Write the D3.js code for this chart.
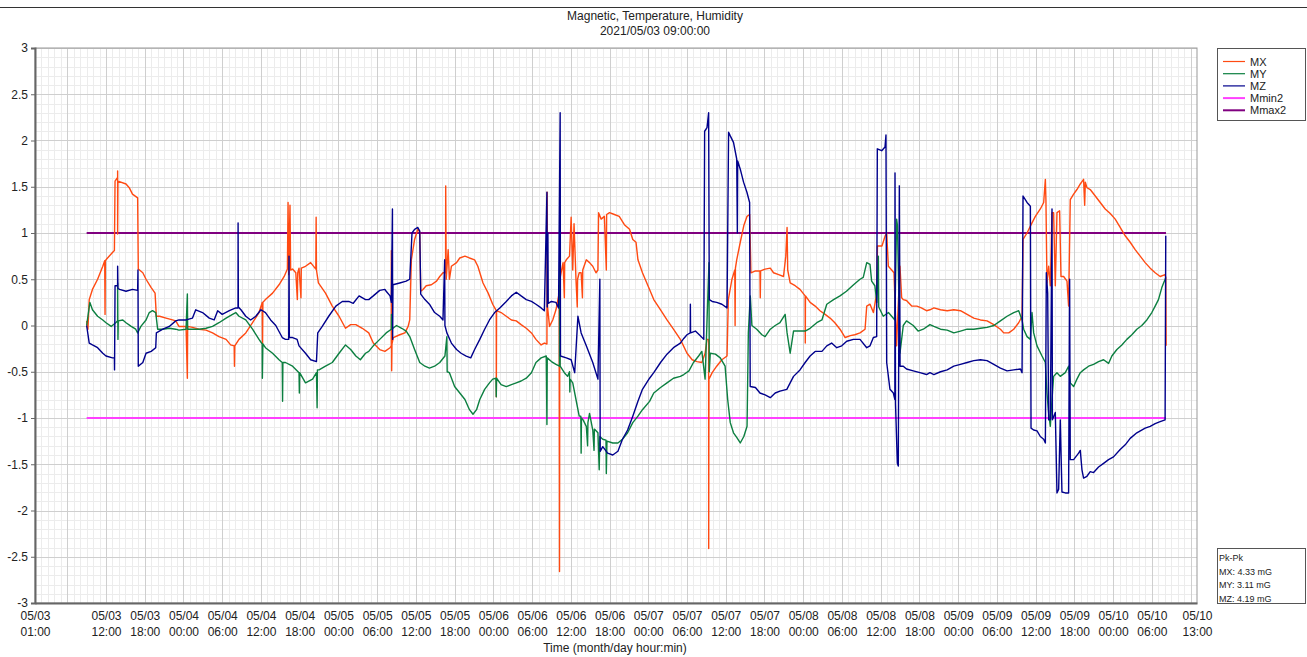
<!DOCTYPE html>
<html>
<head>
<meta charset="utf-8">
<script src="https://cdn.jsdelivr.net/npm/d3@7"></script>
<style>
body { margin: 0; background: #fff; }
svg { font-family: "Liberation Sans", Arial, sans-serif; }
</style>
</head>
<body>
<svg id="chart" width="1307" height="657"></svg>
<script>
// Readings as [hours after 05/03 01:00, value in mG]
const mxData = [[8.0,0.05],[8.2,-0.04],[8.4,0.28],[8.9,0.39],[9.7,0.5],[10.5,0.64],[10.8,0.7],[10.85,0.12],[10.9,0.7],[11.0,0.71],[12.0,0.79],[12.3,0.81],[12.4,1.56],[12.8,1.6],[12.8,1.67],[12.8,0.99],[12.85,1.56],[14.1,1.53],[14.6,1.49],[15.1,1.42],[15.9,1.38],[16.0,0.61],[16.7,0.57],[17.2,0.5],[18.0,0.41],[18.6,0.35],[18.8,0.1],[19.3,0.1],[20.3,0.08],[21.3,0.06],[21.8,0.05],[22.3,-0.01],[23.4,-0.01],[23.6,-0.57],[23.65,-0.01],[24.4,-0.02],[25.4,-0.04],[26.5,-0.05],[27.5,-0.08],[28.5,-0.12],[29.6,-0.15],[30.3,-0.21],[30.85,-0.22],[30.9,-0.44],[30.95,-0.22],[31.6,-0.15],[32.65,-0.08],[33.7,0.03],[34.7,0.14],[35.2,0.25],[35.25,-0.2],[35.3,0.25],[35.7,0.28],[36.8,0.35],[37.8,0.44],[38.6,0.53],[39.1,0.61],[39.2,1.33],[39.3,0.55],[39.5,1.3],[39.6,0.6],[39.9,0.61],[40.4,0.57],[40.64,0.28],[40.7,0.57],[40.9,0.62],[41.2,0.3],[41.25,0.62],[41.9,0.64],[42.7,0.68],[43.5,0.61],[43.55,1.17],[43.6,0.6],[43.9,0.46],[45.0,0.35],[46.05,0.21],[47.1,0.1],[48.1,-0.03],[48.9,0.01],[49.7,0.01],[50.7,-0.03],[51.7,-0.08],[52.4,-0.19],[53.4,-0.26],[54.2,-0.28],[55.0,-0.24],[55.2,-0.22],[55.2,0.81],[55.25,-0.49],[55.3,-0.2],[55.5,-0.13],[56.5,-0.1],[57.3,-0.08],[57.8,-0.01],[58.05,0.06],[58.3,0.71],[58.8,0.93],[59.3,1.04],[59.6,1.01],[59.75,0.37],[60.1,0.39],[60.6,0.43],[61.4,0.44],[62.2,0.48],[62.7,0.53],[63.2,0.57],[63.6,0.57],[63.62,1.51],[63.7,0.5],[64.0,0.82],[64.2,0.5],[64.5,0.64],[65.3,0.68],[65.8,0.73],[66.6,0.75],[67.3,0.73],[68.1,0.71],[68.6,0.64],[69.4,0.46],[70.2,0.35],[70.9,0.23],[71.45,0.16],[71.46,-0.77],[71.5,0.16],[72.2,0.14],[73.0,0.1],[73.8,0.06],[74.55,0.05],[75.3,0.01],[76.1,-0.03],[76.9,-0.08],[77.6,-0.15],[78.4,-0.21],[78.9,-0.19],[79.3,-0.2],[79.34,1.44],[79.4,0.2],[79.7,-0.01],[80.2,0.06],[80.7,0.17],[81.2,0.35],[81.25,-2.66],[81.3,0.5],[81.8,0.68],[82.0,0.3],[82.05,0.68],[82.3,0.71],[82.8,0.75],[83.05,1.17],[83.3,0.6],[83.5,1.1],[83.8,0.5],[84.0,0.2],[84.05,0.5],[84.3,0.57],[84.6,0.57],[84.8,0.3],[84.85,0.6],[85.4,0.71],[85.9,0.68],[86.4,0.64],[86.9,0.57],[87.2,0.6],[87.3,1.22],[87.7,1.15],[88.2,1.18],[88.5,0.6],[88.55,1.2],[89.0,1.22],[89.75,1.2],[90.5,1.18],[91.3,1.09],[92.1,1.04],[92.6,0.93],[93.1,0.9],[93.4,0.71],[94.1,0.57],[95.2,0.39],[95.85,0.28],[96.9,0.17],[97.9,0.06],[98.9,-0.04],[99.97,-0.15],[101.0,-0.3],[101.8,-0.37],[102.55,-0.39],[103.3,-0.4],[103.8,-0.3],[104.1,-0.15],[104.35,-0.15],[104.36,-2.41],[104.4,-0.58],[104.9,-0.51],[105.6,-0.44],[106.4,-0.37],[107.2,-0.33],[107.4,0.28],[107.96,0.5],[108.4,0.6],[108.45,0.0],[108.5,0.62],[108.7,0.71],[109.25,0.9],[109.8,1.08],[110.3,1.18],[110.7,1.2],[110.9,0.57],[111.6,0.59],[112.3,0.59],[112.35,0.3],[112.4,0.59],[113.1,0.61],[113.9,0.62],[114.4,0.57],[115.2,0.55],[115.95,0.53],[116.3,0.75],[116.5,1.06],[116.6,0.6],[116.98,0.46],[117.75,0.43],[118.5,0.39],[119.3,0.32],[119.32,-0.19],[119.35,0.32],[120.07,0.25],[120.85,0.21],[121.6,0.16],[122.4,0.12],[123.16,0.08],[123.9,0.03],[124.7,-0.04],[125.5,-0.13],[126.3,-0.11],[127.0,-0.1],[127.8,-0.08],[128.58,-0.04],[128.84,0.21],[129.35,0.23],[129.87,0.14],[130.4,0.35],[130.5,0.86],[131.2,0.86],[131.7,0.97],[131.93,1.0],[132.19,0.64],[132.7,0.6],[133.06,0.57],[133.47,-0.22],[133.58,0.0],[133.99,0.64],[134.25,0.3],[134.5,0.28],[135.0,0.27],[135.8,0.21],[136.6,0.21],[137.3,0.19],[138.1,0.16],[138.63,0.17],[139.24,0.19],[140.27,0.17],[141.3,0.16],[142.33,0.17],[143.36,0.16],[144.39,0.12],[145.42,0.08],[146.45,0.06],[147.48,0.05],[148.52,0.01],[149.55,-0.04],[150.06,-0.08],[150.84,-0.08],[151.61,-0.04],[152.38,0.03],[152.9,0.1],[153.05,0.93],[153.67,1.0],[154.44,1.11],[154.96,1.18],[155.73,1.26],[156.25,1.33],[156.51,1.58],[156.6,1.35],[156.76,0.46],[157.02,0.64],[157.28,0.43],[157.54,1.22],[157.79,1.22],[158.05,0.43],[158.31,1.22],[158.72,1.24],[158.93,0.53],[159.34,0.53],[159.86,0.48],[160.11,0.21],[160.37,1.36],[160.89,1.42],[161.4,1.47],[161.92,1.53],[162.43,1.58],[162.6,1.3],[162.7,1.55],[162.95,1.49],[163.46,1.47],[164.24,1.4],[165.01,1.33],[165.78,1.26],[166.56,1.21],[167.33,1.15],[168.1,1.06],[168.88,0.97],[169.65,0.9],[170.42,0.82],[171.2,0.75],[171.97,0.68],[172.75,0.62],[173.52,0.57],[174.29,0.53],[175.06,0.55],[175.16,0.52],[175.22,-0.22]];

const myData = [[8.0,0.0],[8.5,0.25],[8.9,0.17],[9.7,0.1],[10.5,0.06],[11.0,0.03],[11.8,-0.01],[12.5,0.03],[12.8,0.05],[12.8,0.46],[12.85,-0.15],[12.9,0.05],[13.6,0.06],[14.1,0.03],[14.9,-0.01],[15.6,-0.04],[15.9,-0.08],[16.4,-0.01],[17.2,0.06],[17.7,0.14],[18.2,0.16],[18.7,0.14],[19.0,-0.04],[19.8,-0.04],[20.8,-0.03],[21.8,-0.04],[22.3,-0.05],[23.4,-0.04],[23.6,0.34],[23.65,-0.04],[24.4,-0.04],[25.4,-0.04],[26.5,-0.03],[27.5,-0.01],[28.5,0.03],[29.6,0.08],[30.6,0.12],[31.1,0.14],[31.6,0.1],[32.65,0.06],[33.7,-0.04],[34.7,-0.15],[35.2,-0.2],[35.22,-0.57],[35.3,-0.2],[35.7,-0.24],[36.8,-0.3],[37.8,-0.37],[38.3,-0.4],[38.35,-0.82],[38.4,-0.4],[38.8,-0.4],[39.9,-0.44],[40.9,-0.51],[40.95,-0.73],[41.0,-0.51],[41.9,-0.62],[43.0,-0.58],[43.6,-0.51],[43.7,-0.89],[43.75,-0.48],[44.0,-0.48],[45.0,-0.44],[46.05,-0.4],[47.1,-0.3],[48.1,-0.21],[48.9,-0.26],[49.7,-0.33],[50.4,-0.37],[51.2,-0.3],[51.7,-0.28],[52.4,-0.22],[53.4,-0.15],[54.4,-0.08],[55.2,-0.04],[55.22,0.12],[55.25,-0.04],[56.0,0.0],[56.8,-0.03],[57.5,-0.06],[58.05,-0.12],[58.8,-0.26],[59.6,-0.4],[60.4,-0.44],[61.1,-0.46],[61.9,-0.44],[62.7,-0.4],[63.5,-0.33],[63.8,-0.12],[63.85,-0.5],[64.2,-0.51],[65.0,-0.66],[65.8,-0.73],[66.6,-0.8],[67.3,-0.91],[67.85,-0.96],[68.4,-0.91],[68.9,-0.8],[69.65,-0.69],[70.4,-0.62],[70.9,-0.58],[71.4,-0.57],[71.45,-0.77],[71.5,-0.57],[72.2,-0.64],[73.0,-0.66],[73.8,-0.64],[74.55,-0.62],[75.3,-0.6],[76.1,-0.57],[76.9,-0.51],[77.6,-0.4],[78.4,-0.35],[79.2,-0.33],[79.3,-1.07],[79.35,-0.35],[80.0,-0.39],[80.7,-0.42],[81.25,-0.44],[81.3,1.49],[81.35,-0.44],[82.0,-0.51],[82.5,-0.55],[82.8,-0.5],[82.85,-0.72],[82.9,-0.58],[83.3,-0.62],[83.8,-0.8],[84.3,-0.98],[84.55,-0.98],[84.6,-1.38],[84.65,-1.0],[84.9,-1.02],[85.4,-1.09],[85.6,-1.3],[85.65,-1.05],[85.9,-0.95],[86.4,-1.13],[86.6,-1.35],[86.65,-1.12],[87.2,-1.16],[87.4,-1.56],[87.5,-1.2],[87.95,-1.23],[88.45,-1.24],[88.5,-1.6],[88.6,-1.25],[89.5,-1.27],[90.3,-1.27],[91.0,-1.23],[91.8,-1.16],[92.6,-1.05],[93.4,-0.98],[94.1,-0.91],[95.2,-0.82],[95.85,-0.73],[96.9,-0.67],[97.9,-0.62],[98.9,-0.57],[99.97,-0.55],[100.5,-0.53],[101.3,-0.49],[102.0,-0.4],[102.8,-0.33],[103.3,-0.28],[103.8,-0.58],[104.4,0.68],[104.45,-0.5],[104.6,-0.3],[105.4,-0.31],[106.15,-0.35],[106.9,-0.44],[107.3,-0.8],[107.7,-1.05],[108.2,-1.16],[108.7,-1.21],[109.25,-1.27],[109.8,-1.2],[110.3,-1.09],[110.5,-0.08],[110.8,0.32],[111.05,0.0],[111.8,-0.04],[112.6,-0.1],[113.1,-0.12],[113.9,-0.04],[114.66,0.0],[115.4,0.03],[116.2,0.12],[116.5,-0.08],[116.98,-0.3],[117.5,-0.06],[118.5,-0.06],[119.3,-0.06],[120.07,-0.03],[121.1,0.03],[121.9,0.06],[122.65,0.23],[123.7,0.28],[124.7,0.32],[125.7,0.37],[126.8,0.44],[127.8,0.5],[128.3,0.52],[128.84,0.68],[129.35,0.66],[129.6,0.48],[130.1,0.43],[130.4,0.25],[130.64,0.75],[130.7,0.2],[131.4,0.1],[132.2,0.14],[132.7,0.1],[133.2,0.06],[133.47,1.15],[133.6,1.08],[133.99,-0.3],[134.5,0.0],[135.0,0.05],[136.05,0.0],[136.8,-0.06],[137.6,-0.04],[138.63,0.01],[139.24,-0.01],[140.27,-0.04],[141.3,-0.05],[142.33,-0.08],[143.36,-0.06],[144.39,-0.04],[145.42,-0.04],[146.45,-0.03],[147.48,-0.02],[148.52,0.0],[149.55,0.05],[150.58,0.1],[151.61,0.14],[152.38,0.16],[152.9,0.06],[153.15,-0.04],[153.67,-0.12],[154.19,-0.15],[154.44,0.14],[154.7,-0.08],[155.22,-0.22],[155.99,-0.33],[156.51,-0.4],[156.76,-0.73],[157.02,-0.95],[157.28,-1.09],[157.54,-0.8],[157.79,-0.55],[158.31,-0.51],[158.82,-0.55],[159.6,-0.51],[160.11,-0.44],[160.37,-0.62],[160.89,-0.66],[161.4,-0.58],[161.92,-0.51],[162.43,-0.48],[163.21,-0.44],[163.98,-0.42],[164.75,-0.39],[165.53,-0.37],[166.3,-0.41],[166.81,-0.33],[167.59,-0.26],[168.36,-0.21],[169.13,-0.15],[169.91,-0.1],[170.68,-0.04],[171.45,0.0],[172.23,0.06],[173.0,0.14],[173.52,0.21],[174.03,0.28],[174.55,0.41],[175.06,0.5],[175.16,0.52]];

const mzData = [[8.0,0.0],[8.4,-0.19],[8.9,-0.21],[9.7,-0.24],[10.5,-0.3],[11.0,-0.33],[12.0,-0.35],[12.3,-0.35],[12.32,-0.48],[12.4,0.43],[12.8,0.43],[12.8,0.64],[12.85,0.4],[13.1,0.39],[14.1,0.37],[15.1,0.39],[15.9,0.38],[15.95,0.6],[16.0,-0.44],[16.7,-0.4],[17.2,-0.3],[18.0,-0.28],[18.7,-0.24],[18.8,-0.08],[19.8,-0.04],[20.8,-0.01],[21.8,0.05],[22.3,0.06],[23.4,0.06],[24.4,0.08],[24.9,0.17],[25.95,0.14],[27.0,0.08],[27.75,0.06],[28.3,0.16],[29.0,0.12],[30.1,0.16],[31.1,0.19],[31.45,0.19],[31.46,1.11],[31.5,0.2],[31.9,0.17],[32.65,0.1],[33.4,0.06],[34.2,0.1],[35.0,0.17],[35.7,0.14],[36.5,0.06],[37.3,0.0],[38.3,-0.13],[38.8,-0.15],[39.3,-0.15],[39.35,0.75],[39.4,-0.13],[39.9,-0.13],[40.6,-0.15],[40.9,-0.22],[41.9,-0.3],[42.7,-0.37],[43.6,-0.39],[43.8,-0.08],[44.5,-0.01],[45.5,0.1],[46.6,0.21],[47.6,0.26],[48.6,0.26],[49.3,0.24],[50.2,0.32],[51.2,0.28],[51.7,0.28],[52.4,0.32],[53.4,0.38],[54.2,0.39],[54.4,0.37],[55.0,0.32],[55.2,0.25],[55.37,1.26],[55.4,-0.15],[55.45,0.44],[56.5,0.46],[57.5,0.48],[58.05,0.5],[58.4,1.0],[58.8,1.04],[59.3,1.06],[59.6,1.02],[59.75,0.34],[60.4,0.28],[61.1,0.23],[61.9,0.14],[62.7,0.1],[63.2,0.06],[63.46,0.71],[63.5,0.0],[63.8,-0.08],[64.5,-0.19],[65.3,-0.26],[66.0,-0.3],[66.8,-0.33],[67.5,-0.35],[68.1,-0.26],[68.9,-0.15],[69.65,-0.04],[70.4,0.06],[71.2,0.14],[72.0,0.19],[73.0,0.26],[73.8,0.32],[74.55,0.36],[75.3,0.32],[76.1,0.28],[76.9,0.26],[77.6,0.23],[78.4,0.19],[78.9,0.16],[79.3,1.44],[79.35,0.2],[79.45,1.0],[79.5,0.24],[80.0,0.26],[80.7,0.25],[81.1,0.19],[81.35,2.3],[81.4,-0.33],[82.3,-0.35],[83.05,-0.37],[83.6,-0.51],[84.1,0.1],[84.6,-0.08],[85.4,-0.22],[86.4,-0.4],[87.2,-0.58],[87.5,0.5],[87.55,-1.36],[87.95,-1.31],[88.7,-1.38],[89.5,-1.4],[90.3,-1.36],[91.0,-1.23],[91.8,-1.13],[92.6,-0.98],[93.4,-0.82],[94.1,-0.69],[95.2,-0.57],[95.85,-0.51],[96.9,-0.4],[97.9,-0.31],[98.9,-0.24],[99.97,-0.19],[100.5,-0.14],[101.0,-0.1],[101.5,-0.08],[101.52,0.23],[101.55,-0.08],[102.3,-0.06],[103.06,-0.11],[103.6,-0.15],[103.73,2.1],[104.1,2.14],[104.35,2.3],[104.45,0.28],[104.9,0.26],[105.6,0.25],[106.4,0.23],[107.2,0.19],[107.44,2.09],[107.7,2.05],[108.2,1.98],[108.7,1.8],[108.8,1.0],[108.85,1.78],[109.25,1.69],[109.76,1.55],[110.28,1.44],[110.7,1.33],[110.79,-0.66],[111.6,-0.67],[112.3,-0.73],[113.1,-0.75],[113.9,-0.78],[114.66,-0.73],[115.4,-0.71],[116.46,-0.69],[116.98,-0.62],[117.5,-0.55],[118.5,-0.48],[119.3,-0.4],[120.07,-0.33],[120.85,-0.28],[121.9,-0.28],[122.65,-0.22],[123.4,-0.19],[124.2,-0.24],[124.97,-0.22],[125.74,-0.17],[126.77,-0.15],[127.8,-0.15],[128.84,-0.24],[129.35,-0.22],[129.87,-0.13],[130.38,-0.12],[130.48,1.91],[131.16,1.89],[131.67,1.93],[131.82,2.06],[131.93,-0.4],[132.44,-0.69],[132.96,-0.73],[133.2,-0.8],[133.22,1.65],[133.3,-0.85],[133.58,-1.49],[133.73,-1.52],[133.89,1.51],[134.0,-0.44],[134.5,-0.44],[135.0,-0.47],[136.05,-0.49],[137.08,-0.51],[138.11,-0.53],[138.63,-0.51],[139.24,-0.53],[140.27,-0.5],[141.3,-0.48],[142.33,-0.44],[143.36,-0.42],[144.39,-0.4],[145.42,-0.38],[146.45,-0.37],[147.48,-0.38],[148.52,-0.42],[149.55,-0.46],[150.58,-0.49],[151.61,-0.48],[152.64,-0.47],[152.9,-0.51],[153.05,1.4],[153.67,1.33],[154.19,1.29],[154.29,-1.11],[154.7,-1.13],[155.22,-1.14],[155.73,-1.2],[156.25,-1.23],[156.51,-1.27],[156.66,0.57],[156.87,0.35],[157.02,-1.02],[157.28,-1.02],[157.54,1.26],[157.6,-1.02],[158.05,-0.94],[158.31,-1.81],[158.57,-1.77],[158.82,-1.02],[159.08,-1.8],[159.6,-1.81],[160.11,-1.81],[160.27,0.5],[160.37,-1.45],[160.89,-1.45],[161.66,-1.38],[161.92,-1.35],[162.18,-1.56],[162.43,-1.65],[162.95,-1.63],[163.46,-1.58],[163.98,-1.59],[164.75,-1.53],[165.53,-1.49],[166.3,-1.45],[167.07,-1.42],[168.1,-1.34],[168.88,-1.29],[169.65,-1.22],[170.68,-1.16],[171.97,-1.11],[172.75,-1.09],[173.52,-1.06],[174.29,-1.04],[175.06,-1.02],[175.16,0.97]];

// Alarm limits and their time span
const limitMin = -1;
const limitMax = 1;
const limitSpan = [8.0, 175.2];

const seriesNames = ["MX", "MY", "MZ", "Mmin2", "Mmax2"];
const seriesColors = ["#ff4a12", "#0c7f40", "#00008c", "#ff40ff", "#800080"];
const pkPkLines = ["Pk-Pk", "MX: 4.33 mG", "MY: 3.11 mG", "MZ: 4.19 mG"];
const yTicks = [3, 2.5, 2, 1.5, 1, 0.5, 0, -0.5, -1, -1.5, -2, -2.5, -3];

const axisStart = new Date(2021, 4, 3, 1, 0);
const axisEnd = new Date(2021, 4, 10, 13, 0);
const toDate = (h) => new Date(+axisStart + h * 3600e3);

const svg = d3.select("#chart");
const margin = { left: 35, right: 1197, top: 48, bottom: 603 };

const x = d3.scaleTime().domain([axisStart, axisEnd]).range([margin.left, margin.right]);
const y = d3.scaleLinear().domain([-3, 3]).range([margin.bottom, margin.top]);

// Title line and title
svg.append("line").attr("x1", 0).attr("x2", 1307).attr("y1", 7.5).attr("y2", 7.5)
	.attr("stroke", "#333").attr("stroke-width", 1);
svg.append("text").attr("x", 655).attr("y", 20).attr("text-anchor", "middle")
	.attr("font-size", 12).attr("fill", "#222").text("Magnetic, Temperature, Humidity");
svg.append("text").attr("x", 655).attr("y", 35).attr("text-anchor", "middle")
	.attr("font-size", 12).attr("fill", "#222").text("2021/05/03 09:00:00");

// Grid
const grid = svg.append("g");
const minorX = d3.timeHour.range(axisStart, axisEnd);
const minorY = d3.range(-30, 31).map((d) => d / 10);
grid.selectAll(".mx").data(minorX).enter().append("line")
	.attr("x1", (d) => Math.round(x(d)) + 0.5).attr("x2", (d) => Math.round(x(d)) + 0.5)
	.attr("y1", margin.top).attr("y2", margin.bottom)
	.attr("stroke", "#ececec");
grid.selectAll(".my").data(minorY).enter().append("line")
	.attr("x1", margin.left).attr("x2", margin.right)
	.attr("y1", (d) => Math.round(y(d)) + 0.5).attr("y2", (d) => Math.round(y(d)) + 0.5)
	.attr("stroke", "#ececec");
const majorX = d3.timeHour.every(6).range(axisStart, axisEnd);
grid.selectAll(".Mx").data(majorX).enter().append("line")
	.attr("x1", (d) => Math.round(x(d)) + 0.5).attr("x2", (d) => Math.round(x(d)) + 0.5)
	.attr("y1", margin.top).attr("y2", margin.bottom)
	.attr("stroke", "#cfcfcf");
grid.selectAll(".My").data(yTicks).enter().append("line")
	.attr("x1", margin.left).attr("x2", margin.right)
	.attr("y1", (d) => Math.round(y(d)) + 0.5).attr("y2", (d) => Math.round(y(d)) + 0.5)
	.attr("stroke", "#cfcfcf");

// Frame
svg.append("rect").attr("x", margin.left).attr("y", margin.top)
	.attr("width", margin.right - margin.left).attr("height", margin.bottom - margin.top)
	.attr("fill", "none").attr("stroke", "#999");

// Limit lines
const limitLine = (v, color) =>
	svg.append("line")
		.attr("x1", x(toDate(limitSpan[0]))).attr("x2", x(toDate(limitSpan[1])))
		.attr("y1", y(v)).attr("y2", y(v))
		.attr("stroke", color).attr("stroke-width", 2);
limitLine(limitMin, seriesColors[3]);
limitLine(limitMax, seriesColors[4]);

// Series
const line = d3.line().x((d) => x(toDate(d[0]))).y((d) => y(d[1]));
[mxData, myData, mzData].forEach((data, i) => {
	svg.append("path").datum(data).attr("d", line)
		.attr("fill", "none").attr("stroke", seriesColors[i])
		.attr("stroke-width", 1.4).attr("stroke-linejoin", "round");
});

// Y axis
const yAxis = d3.axisLeft(y).tickValues(yTicks).tickSize(4).tickFormat((d) => String(d));
const yG = svg.append("g").attr("transform", `translate(${margin.left},0)`).call(yAxis);
yG.select(".domain").attr("stroke", "#666").attr("stroke-width", 2);
yG.selectAll(".tick line").attr("stroke", "#666");
yG.selectAll(".tick text").attr("font-size", 12).attr("fill", "#222")
	.attr("font-family", "Liberation Sans, Arial, sans-serif");

// X axis, two line labels
const xTickValues = [axisStart].concat(
	d3.timeHour.every(6).range(new Date(2021, 4, 3, 12), new Date(2021, 4, 10, 7)),
	[axisEnd]
);
const fmtDay = d3.timeFormat("%m/%d");
const fmtTime = d3.timeFormat("%H:%M");
const xAxis = d3.axisBottom(x).tickValues(xTickValues).tickSize(0).tickFormat(() => "");
const xG = svg.append("g").attr("transform", `translate(0,${margin.bottom})`).call(xAxis);
xG.select(".domain").attr("stroke", "#666").attr("stroke-width", 2);
xG.selectAll(".tick text").each(function (d) {
	const t = d3.select(this).attr("font-size", 12).attr("fill", "#222")
		.attr("font-family", "Liberation Sans, Arial, sans-serif").attr("y", 0).attr("dy", null);
	t.append("tspan").attr("x", 0).attr("y", 17).text(fmtDay(d));
	t.append("tspan").attr("x", 0).attr("y", 33).text(fmtTime(d));
});

svg.append("text").attr("x", 615).attr("y", 652).attr("text-anchor", "middle")
	.attr("font-size", 12).attr("fill", "#222").text("Time (month/day hour:min)");

// Legend
const legend = svg.append("g");
legend.append("rect").attr("x", 1217.5).attr("y", 48.5).attr("width", 88).attr("height", 72)
	.attr("fill", "#fff").attr("stroke", "#555");
seriesNames.forEach((name, i) => {
	const ly = 61.5 + i * 12.2;
	legend.append("line").attr("x1", 1223).attr("x2", 1245).attr("y1", ly).attr("y2", ly)
		.attr("stroke", seriesColors[i]).attr("stroke-width", i > 2 ? 2 : 1.2);
	legend.append("text").attr("x", 1250).attr("y", ly + 4).attr("font-size", 11)
		.attr("fill", "#222").text(name);
});

// Peak to peak box
const pk = svg.append("g");
pk.append("rect").attr("x", 1217.5).attr("y", 548.5).attr("width", 88).attr("height", 55)
	.attr("fill", "#fff").attr("stroke", "#555");
pkPkLines.forEach((txt, i) => {
	pk.append("text").attr("x", 1219).attr("y", 561 + i * 13.5).attr("font-size", 9)
		.attr("fill", "#222").text(txt);
});
</script>
</body>
</html>
